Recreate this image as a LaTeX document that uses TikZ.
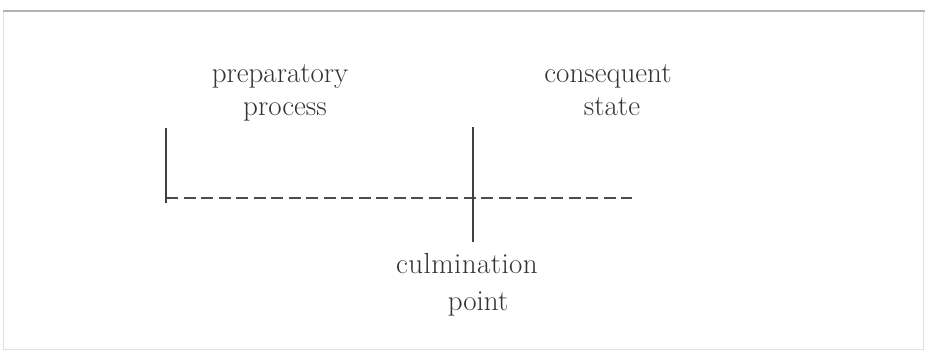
\documentclass[tikz,border=0pt]{standalone}
\usepackage{fontspec}
\usepackage{tikz}

\newfontfamily\spacedfont[LetterSpace=1.5]{Latin Modern Roman}

\tikzset{
    label text/.style={inner sep=0pt, anchor=base, font=\fontsize{29}{33}\selectfont, text=black!80},
    time line/.style={dash pattern=on 12pt off 5.5pt, line width=1.3pt, black!70},
    bar/.style={line width=1.4pt, black!75}
}

\begin{document}
\begin{tikzpicture}[x=1pt, y=-1pt]
    \useasboundingbox (0,0) rectangle (925,350);

    % frame of the scanned figure
    \draw[black!12, line width=1pt] (3,12) rectangle (923,349);
    \draw[black!30, line width=2pt] (3,11) -- (925,11);

    % points on the time line
    \coordinate (start) at (166,198);
    \coordinate (starttop) at (166,128);
    \coordinate (startbot) at (166,203);
    \coordinate (culm) at (473,198);
    \coordinate (culmtop) at (473,127);
    \coordinate (culmbot) at (473,242);
    \coordinate (end) at (632,198);

    \draw[time line] (start) -- (end);
    \draw[bar] (starttop) -- (startbot);
    \draw[bar] (start) -- ++(4,0);
    \draw[bar, line width=2.4pt] (culmtop) -- (culmbot);

    % labels
    \node[label text] (prep1) at (280,83) {preparatory};
    \node[label text] (prep2) at (285,115) {process};
    \node[label text] (cons1) at (608,83) {consequent};
    \node[label text] (cons2) at (612,115) {state};
    \node[label text, font=\spacedfont\fontsize{29}{33}\selectfont] (culm1) at (467,273) {culmination};
    \node[label text] (culm2) at (478,310) {point};
\end{tikzpicture}
\end{document}
